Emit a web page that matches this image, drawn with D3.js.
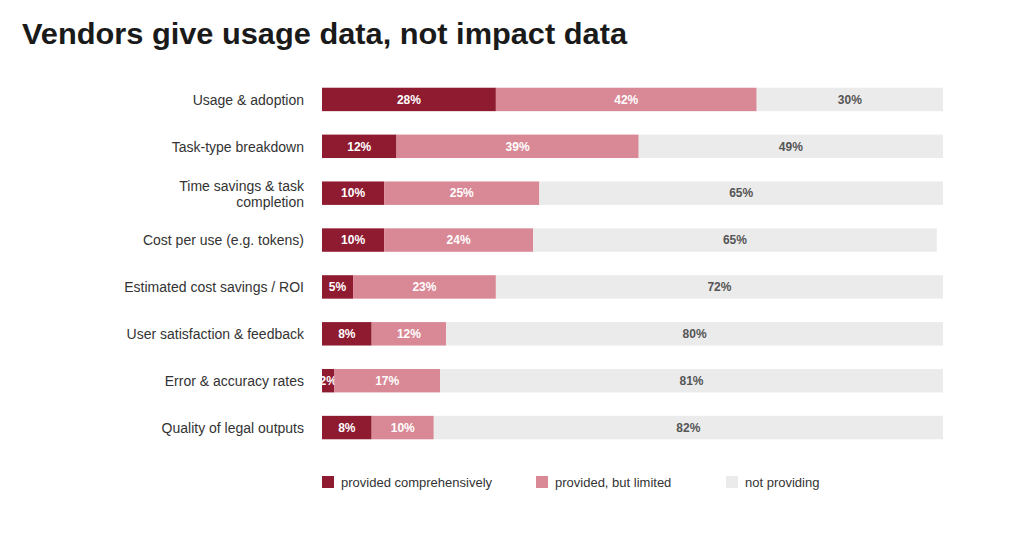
<!DOCTYPE html>
<html>
<head>
<meta charset="utf-8">
<script src="https://cdn.jsdelivr.net/npm/d3@7"></script>
<style>
  body { margin: 0; background: #fff; }
  svg { font-family: "Liberation Sans", Arial, sans-serif; }
</style>
</head>
<body>
<svg width="1024" height="556"></svg>
<script>
// chart data
var categories = [
  "Usage & adoption",
  "Task-type breakdown",
  "Time savings & task completion",
  "Cost per use (e.g. tokens)",
  "Estimated cost savings / ROI",
  "User satisfaction & feedback",
  "Error & accuracy rates",
  "Quality of legal outputs"
];
var comprehensive = [28, 12, 10, 10, 5, 8, 2, 8];
var limited = [42, 39, 25, 24, 23, 12, 17, 10];
var notProviding = [30, 49, 65, 65, 72, 80, 81, 82];
var seriesNames = ["provided comprehensively", "provided, but limited", "not providing"];
var colors = ["#8e1b30", "#d98896", "#ebebeb"];
var labelColors = ["#ffffff", "#ffffff", "#555555"];

var svg = d3.select("svg");

svg.append("text")
    .attr("x", 22)
    .attr("y", 44)
    .attr("font-size", 30)
    .attr("font-weight", "bold")
    .attr("fill", "#1a1a1a")
    .attr("textLength", 605)
    .attr("lengthAdjust", "spacingAndGlyphs")
    .text("Vendors give usage data, not impact data");

var rows = categories.map(function(c, i) {
  return { cat: c, vals: [comprehensive[i], limited[i], notProviding[i]] };
});

var x = d3.scaleLinear().domain([0, 100]).range([322, 943]);
var y = d3.scaleBand().domain(categories).range([76, 451]).paddingInner(0.5).paddingOuter(0.25);

var row = svg.selectAll(".row")
  .data(rows)
  .enter().append("g")
    .attr("class", "row")
    .attr("transform", function(d) { return "translate(0," + y(d.cat) + ")"; });

row.each(function(d) {
  var g = d3.select(this);
  var acc = 0;
  d.vals.forEach(function(v, k) {
    var x0 = x(acc), x1 = x(acc + v);
    acc += v;
    g.append("rect")
      .attr("x", x0)
      .attr("y", 0)
      .attr("width", x1 - x0)
      .attr("height", y.bandwidth())
      .attr("fill", colors[k]);
    g.append("text")
      .attr("x", (x0 + x1) / 2)
      .attr("y", y.bandwidth() / 2)
      .attr("dy", "0.35em")
      .attr("text-anchor", "middle")
      .attr("font-size", 12)
      .attr("font-weight", "bold")
      .attr("fill", labelColors[k])
      .text(v + "%");
  });
});

// category labels, wrap the long one
row.append("text")
    .attr("x", 304)
    .attr("text-anchor", "end")
    .attr("font-size", 14)
    .attr("fill", "#333")
    .each(function(d) {
      var t = d3.select(this);
      var lines = d.cat === "Time savings & task completion" ? ["Time savings & task", "completion"] : [d.cat];
      var start = y.bandwidth() / 2 - (lines.length - 1) * 8 + 0.5;
      lines.forEach(function(l, j) {
        t.append("tspan").attr("x", 304).attr("y", start + j * 16).attr("dy", "0.35em").text(l);
      });
    });

// legend
var legendX = [322, 536, 726];
var legend = svg.selectAll(".legend")
  .data(seriesNames)
  .enter().append("g")
    .attr("transform", function(d, i) { return "translate(" + legendX[i] + ",476)"; });

legend.append("rect")
    .attr("width", 12).attr("height", 12)
    .attr("fill", function(d, i) { return colors[i]; });

legend.append("text")
    .attr("x", 19).attr("y", 6).attr("dy", "0.35em")
    .attr("font-size", 13)
    .attr("fill", "#333")
    .text(function(d) { return d; });
</script>
</body>
</html>
